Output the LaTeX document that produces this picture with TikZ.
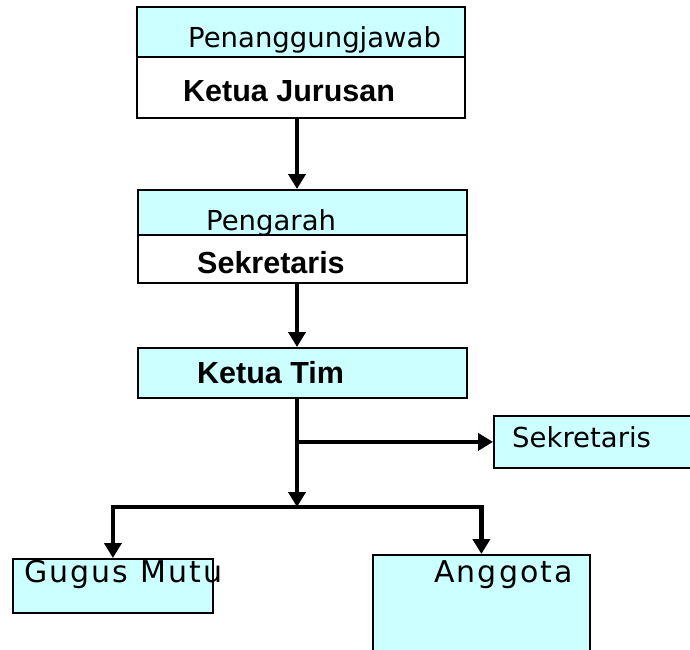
\documentclass[tikz,border=0pt]{standalone}
\usepackage{fontspec}
\setmainfont{Liberation Sans}
\newfontfamily\dejavu{DejaVu Sans}
\usetikzlibrary{arrows.meta}
\definecolor{lightcyan}{HTML}{CCFFFF}
\tikzset{
  box/.style={draw=black, line width=1.8pt, fill=lightcyan, inner sep=0pt, anchor=north west},
  whitebox/.style={box, fill=white},
  txt/.style={anchor=base west, inner sep=0pt, font=\dejavu\fontsize{27.5}{30}\selectfont},
  boldtxt/.style={anchor=base west, inner sep=0pt, font=\bfseries\fontsize{30.5}{33}\selectfont},
  widetxt/.style={anchor=base west, inner sep=0pt, font=\dejavu\addfontfeatures{LetterSpace=7}\fontsize{30}{33}\selectfont},
  conn/.style={line width=4.5pt, -{Triangle[length=15pt,width=17pt]}},
}
\begin{document}
\begin{tikzpicture}[x=1pt,y=-1pt]
\useasboundingbox (0,0) rectangle (690,649);

% penanggungjawab
\node[box, minimum width=328pt, minimum height=50pt] (pj) at (136,6) {};
\node[whitebox, minimum width=328pt, minimum height=61pt] (kj) at (136,56) {};
\node[txt] (pjtxt) at (188,47) {Penanggungjawab};
\node[boldtxt] (kjtxt) at (183,101) {Ketua Jurusan};

% pengarah
\node[box, minimum width=329pt, minimum height=45pt] (pg) at (137,189) {};
\node[whitebox, minimum width=329pt, minimum height=48pt] (sk) at (137,234) {};
\node[txt] (pgtxt) at (206,230) {Pengarah};
\node[boldtxt] (sktxt) at (197,273) {Sekretaris};

% ketua tim
\node[box, minimum width=329pt, minimum height=50pt] (kt) at (137,347) {};
\node[boldtxt] (kttxt) at (197,383) {Ketua Tim};

% sekretaris tim
\node[box, minimum width=210pt, minimum height=52pt] (sek) at (493,415) {};
\node[txt] (sektxt) at (512,447) {Sekretaris};

% gugus mutu, anggota
\node[box, minimum width=200pt, minimum height=54pt] (gm) at (12,558) {};
\node[box, minimum width=217pt, minimum height=110pt] (ag) at (372,554) {};
\node[widetxt] (gmtxt) at (24,582) {Gugus Mutu};
\node[widetxt] (agtxt) at (434,582) {Anggota};

\coordinate (bar) at (297,507);

\draw[conn] (bar |- kj.south) -- (bar |- pg.north);
\draw[conn] (bar |- sk.south) -- (bar |- kt.north);
\draw[conn] (bar |- kt.south) -- (bar);
\draw[conn] (bar |- sek.west) -- (sek.west);
\draw[conn, {Triangle[length=15pt,width=17pt]}-{Triangle[length=15pt,width=17pt]}, line join=miter]
  (gm.north) -- (gm.north |- bar) -- (ag.north |- bar) -- (ag.north);
\end{tikzpicture}
\end{document}
